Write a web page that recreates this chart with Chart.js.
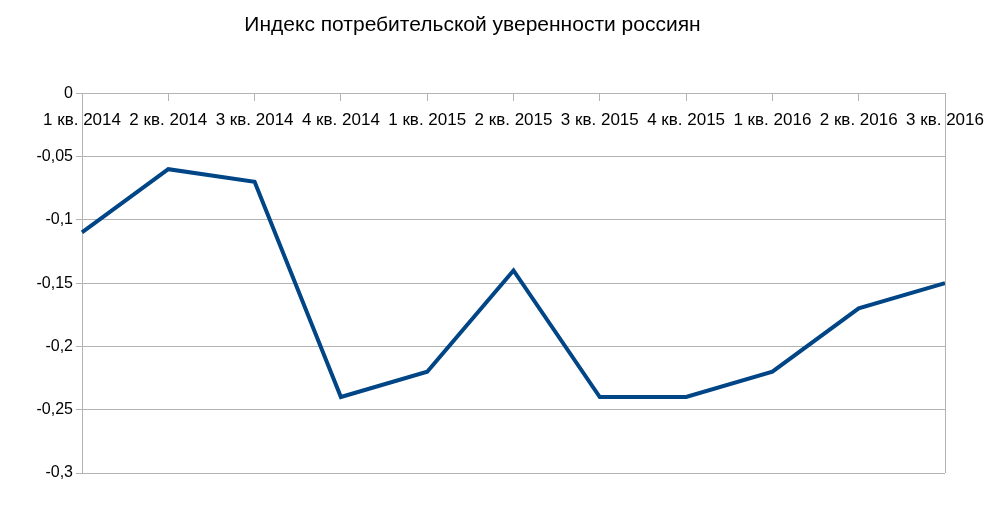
<!DOCTYPE html>
<html>
<head>
<meta charset="utf-8">
<style>
  html, body { margin: 0; padding: 0; background: #fff; }
  #wrap { width: 992px; height: 525px; }
</style>
<script src="https://cdn.jsdelivr.net/npm/chart.js@4.4.1/dist/chart.umd.min.js"></script>
</head>
<body>
<div id="wrap"><canvas id="chart" width="992" height="525"></canvas></div>
<script>
// Chart data
const quarters = ["1 кв. 2014", "2 кв. 2014", "3 кв. 2014", "4 кв. 2014", "1 кв. 2015", "2 кв. 2015",
  "3 кв. 2015", "4 кв. 2015", "1 кв. 2016", "2 кв. 2016", "3 кв. 2016"];
const confidence = [-0.11, -0.06, -0.07, -0.24, -0.22, -0.14, -0.24, -0.24, -0.22, -0.17, -0.15];
const yTicks = [0, -0.05, -0.1, -0.15, -0.2, -0.25, -0.3];

const gridColor = "#b3b3b3";
const fontFamily = "'Liberation Sans', Arial, sans-serif";

// right border of the plot area
const plotBorder = {
  id: "plotBorder",
  afterDraw(chart) {
    const { ctx, chartArea } = chart;
    ctx.save();
    ctx.strokeStyle = gridColor;
    ctx.lineWidth = 1;
    ctx.beginPath();
    ctx.moveTo(Math.round(chartArea.right) + 0.5, chartArea.top);
    ctx.lineTo(Math.round(chartArea.right) + 0.5, chartArea.bottom);
    ctx.stroke();
    ctx.restore();
  }
};

const config = {
  type: "line",
  data: {
    labels: quarters,
    datasets: [{
      data: confidence,
      borderColor: "#004586",
      borderWidth: 4,
      pointRadius: 0,
      tension: 0,
      fill: false
    }]
  },
  options: {
    responsive: false,
    animation: false,
    layout: { padding: { left: 0, right: 47, top: 0, bottom: 52 } },
    plugins: {
      legend: { display: false },
      tooltip: { enabled: false },
      title: {
        display: true,
        text: "Индекс потребительской уверенности россиян",
        color: "#000",
        font: { family: fontFamily, size: 21, weight: "normal" },
        padding: { top: 13, bottom: 55 }
      }
    },
    scales: {
      x: {
        position: { y: 0 },
        offset: false,
        afterFit(scale) { scale.paddingLeft = 0; scale.paddingRight = 0; },
        grid: { display: true, drawOnChartArea: false, drawTicks: true, tickLength: 7, color: gridColor },
        border: { display: true, color: gridColor },
        ticks: {
          color: "#000",
          font: { family: fontFamily, size: 17 },
          padding: 10,
          maxRotation: 0,
          autoSkip: false
        }
      },
      y: {
        min: -0.3,
        max: 0,
        afterFit(scale) { scale.width = 82; },
        afterBuildTicks(scale) { scale.ticks = yTicks.map(v => ({ value: v })); },
        grid: { color: gridColor, tickLength: 6 },
        border: { display: true, color: gridColor },
        ticks: {
          color: "#000",
          font: { family: fontFamily, size: 16 },
          padding: 3,
          callback: v => String(Math.round(v * 100) / 100).replace(".", ",")
        }
      }
    }
  },
  plugins: [plotBorder]
};

new Chart(document.getElementById("chart").getContext("2d"), config);
</script>
</body>
</html>
